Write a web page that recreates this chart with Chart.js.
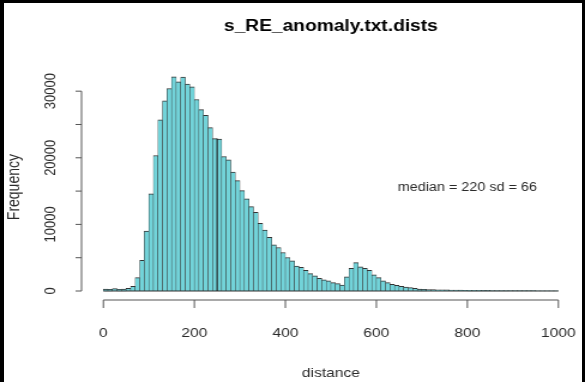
<!DOCTYPE html>
<html>
<head>
<meta charset="utf-8">
<script src="https://cdn.jsdelivr.net/npm/chart.js@4.4.1/dist/chart.umd.min.js"></script>
<style>
  html, body { margin: 0; padding: 0; background: #fff; }
  #wrap { position: relative; width: 585px; height: 382px; overflow: hidden; }
  #c { position: absolute; left: 0; top: 0; }
  #frame {
    position: absolute; left: 0; top: 0; width: 585px; height: 382px; box-sizing: border-box;
    border-left: 4px solid #000; border-top: 3px solid #000; border-right: 3px solid #000;
    pointer-events: none;
  }
</style>
</head>
<body>
<div id="wrap">
  <!-- drawn at 488 wide and stretched to 585, like the reference picture -->
  <canvas id="c" width="488" height="382" style="width:585px;height:382px"></canvas>
  <div id="frame"></div>
</div>
<script>
// histogram of distances, bins of 10
var binStart = 0;
var binWidth = 10;
var counts = [
  300, 250, 350, 250, 300, 400, 700, 2000, 4600, 9000,
  14600, 20350, 25700, 28550, 30400, 32150, 31400, 32100, 31050, 30650,
  28750, 27240, 26380, 24520, 22870, 22800, 20200, 19700, 17840, 16580,
  15075, 13820, 12660, 11810, 10150, 9150, 8040, 6930, 6530, 5780,
  5030, 4520, 3750, 3550, 3110, 2610, 2260, 1910, 1660, 1510,
  1260, 1110, 900, 2110, 3420, 4270, 3620, 3420, 3110, 2410,
  2010, 1510, 1260, 1000, 850, 700, 600, 500, 400, 300,
  250, 220, 200, 180, 170, 160, 150, 140, 130, 120,
  110, 100, 100, 90, 90, 80, 80, 70, 70, 60,
  60, 60, 50, 50, 50, 40, 40, 40, 40, 30
];
var markLine = [250];
var xTicks = [0, 200, 400, 600, 800, 1000];
var yTicks = [0, 5000, 10000, 15000, 20000, 25000, 30000];
var yLabels = [0, 10000, 20000, 30000];
var titleText = "s_RE_anomaly.txt.dists";
var xTitle = "distance";
var yTitle = "Frequency";
var note = "median = 220 sd = 66";
var notePos = [800, 15500];

var fam = "'Liberation Sans', Arial, sans-serif";

var pts = [];
for (var i = 0; i < counts.length; i++) {
  pts.push({ x: binStart + binWidth * (i + 0.5), y: counts[i] });
}

// R style axes, drawn off the chart area like base graphics
var rAxes = {
  id: "rAxes",
  afterDatasetsDraw: function (chart) {
    var ctx = chart.ctx;
    var x = chart.scales.x;
    var y = chart.scales.y;
    var a = chart.chartArea;
    var x0 = x.getPixelForValue(binStart);
    var x1 = x.getPixelForValue(binStart + binWidth * counts.length);
    var yb = y.getPixelForValue(0);
    ctx.save();

    // bottom edges of the bars
    ctx.strokeStyle = "#333";
    ctx.lineWidth = 1;
    ctx.beginPath();
    ctx.moveTo(x0, yb);
    ctx.lineTo(x1, yb);
    ctx.stroke();

    // dark line inside the bars
    markLine.forEach(function (v) {
      var k = Math.round((v - binStart) / binWidth);
      var h = Math.max(counts[k - 1] || 0, counts[k] || 0);
      var px = x.getPixelForValue(v);
      ctx.strokeStyle = "#1a1a1a";
      ctx.beginPath();
      ctx.moveTo(px, yb);
      ctx.lineTo(px, y.getPixelForValue(h));
      ctx.stroke();
    });

    ctx.strokeStyle = "#555";
    ctx.fillStyle = "#2a2a2a";
    ctx.font = "13px " + fam;

    // x axis
    var xa = a.bottom;
    ctx.beginPath();
    ctx.moveTo(x.getPixelForValue(xTicks[0]), xa);
    ctx.lineTo(x.getPixelForValue(xTicks[xTicks.length - 1]), xa);
    xTicks.forEach(function (v) {
      var px = x.getPixelForValue(v);
      ctx.moveTo(px, xa);
      ctx.lineTo(px, xa + 8);
    });
    ctx.stroke();
    ctx.textAlign = "center";
    ctx.textBaseline = "middle";
    xTicks.forEach(function (v) {
      ctx.fillText(String(v), x.getPixelForValue(v), xa + 33);
    });
    ctx.fillText(xTitle, (a.left + a.right) / 2, 373);

    // y axis
    var ya = a.left;
    ctx.beginPath();
    ctx.moveTo(ya, y.getPixelForValue(yTicks[0]));
    ctx.lineTo(ya, y.getPixelForValue(yTicks[yTicks.length - 1]));
    yTicks.forEach(function (v) {
      var py = y.getPixelForValue(v);
      ctx.moveTo(ya, py);
      ctx.lineTo(ya - 5, py);
    });
    ctx.stroke();
    yLabels.forEach(function (v) {
      ctx.save();
      ctx.translate(ya - 26, y.getPixelForValue(v));
      ctx.rotate(-Math.PI / 2);
      ctx.fillText(String(v), 0, 0);
      ctx.restore();
    });
    ctx.save();
    ctx.font = "14px " + fam;
    ctx.translate(12, (a.top + a.bottom) / 2 + 3);
    ctx.rotate(-Math.PI / 2);
    ctx.fillText(yTitle, 0, 0);
    ctx.restore();

    // text in the plot
    ctx.font = "12px " + fam;
    ctx.fillText(note, x.getPixelForValue(notePos[0]), y.getPixelForValue(notePos[1]));

    ctx.restore();
  }
};

var graf = document.getElementById("c").getContext("2d");
var hist = new Chart(graf, {
  type: "bar",
  data: {
    datasets: [
      {
        label: "Frequency",
        data: pts,
        backgroundColor: "#72d3d9",
        borderColor: "#333",
        borderWidth: { top: 1, bottom: 0, left: 0.5, right: 0.5 },
        borderSkipped: false,
        barPercentage: 1,
        categoryPercentage: 1,
        grouped: false
      }
    ]
  },
  options: {
    responsive: false,
    devicePixelRatio: 1,
    animation: false,
    layout: { padding: { left: 68, right: 4, top: 0, bottom: 82 } },
    scales: {
      x: {
        type: "linear", min: -48, max: 1048, display: false, offset: false,
        grid: { offset: false }, ticks: { stepSize: 200 }
      },
      y: { min: -1350, max: 33450, display: false, ticks: { stepSize: 5000 } }
    },
    plugins: {
      legend: { display: false },
      tooltip: { enabled: false },
      title: {
        display: true,
        text: titleText,
        color: "#000",
        font: { family: fam, size: 16, weight: "bold" },
        padding: { top: 17, bottom: 32 }
      }
    }
  },
  plugins: [rAxes]
});
</script>
</body>
</html>
